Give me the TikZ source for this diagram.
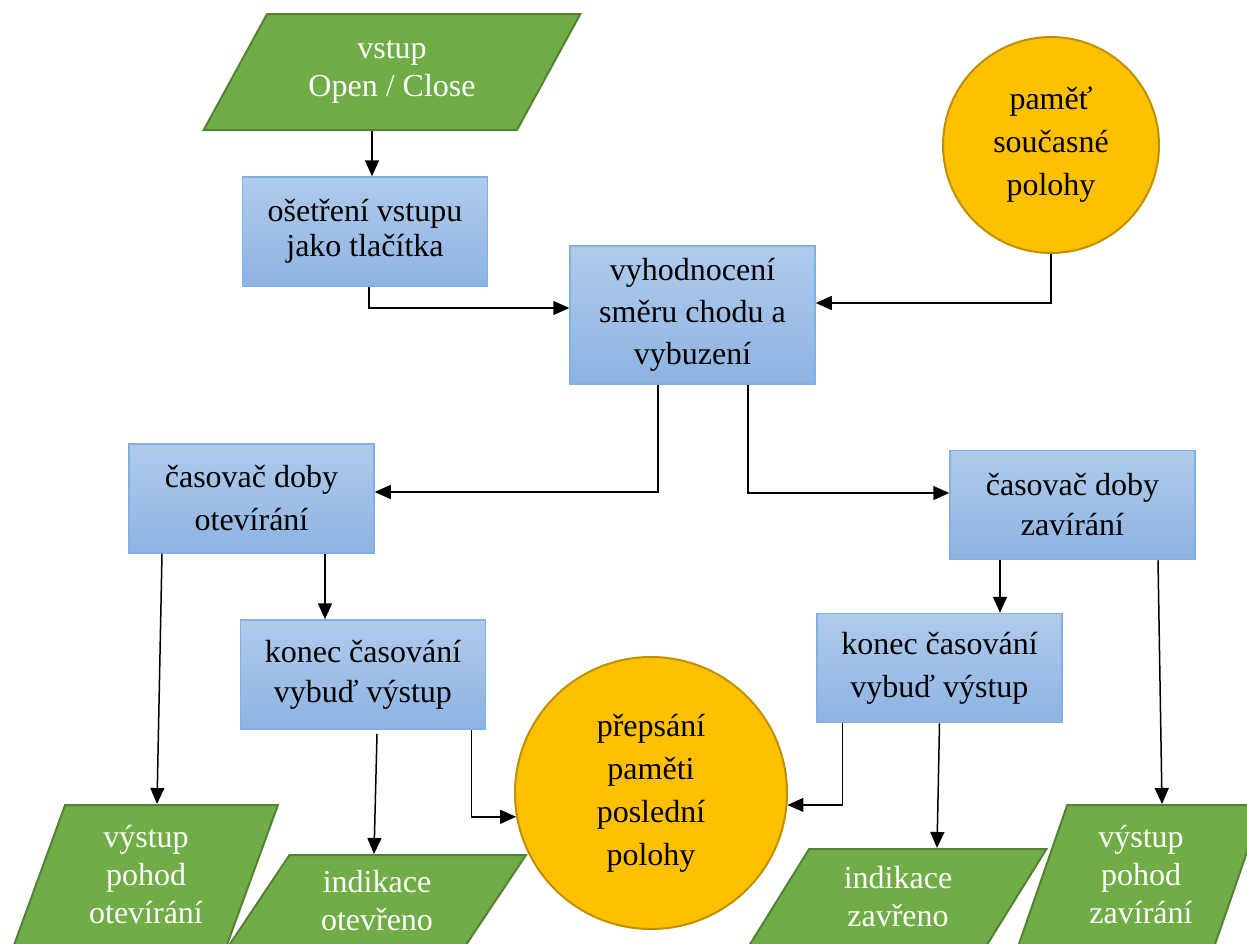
\documentclass[tikz,border=0pt]{standalone}
\usepackage{fontspec}
\setmainfont{Liberation Serif}
\usetikzlibrary{shapes.geometric,arrows.meta}
\definecolor{iogreen}{HTML}{70AD47}
\definecolor{iogreenline}{HTML}{548235}
\definecolor{boxtop}{HTML}{B0CBEB}
\definecolor{boxbot}{HTML}{8DB3E2}
\definecolor{boxline}{HTML}{7FB1E6}
\definecolor{memfill}{HTML}{FFC000}
\definecolor{memline}{HTML}{BF9000}
\tikzset{
  proc/.style={rectangle, draw=boxline, line width=0.75pt, top color=boxtop,
    bottom color=boxbot, minimum width=122.5pt, minimum height=54.5pt,
    align=center, inner sep=2pt, font=\fontsize{16}{20}\selectfont},
  io/.style={trapezium, trapezium stretches=true, draw=iogreenline, fill=iogreen,
    line width=1pt, text=white, align=center, inner sep=0pt,
    font=\fontsize{16}{19}\selectfont},
  mem/.style={circle, draw=memline, fill=memfill, line width=1pt, align=center,
    inner sep=0pt, font=\fontsize{16}{21.5}\selectfont},
  arr/.style={-{Triangle[length=8pt,width=7pt]}, line width=0.75pt},
}
\begin{document}
\begin{tikzpicture}[x=0.5pt,y=-0.5pt]
\clip (0,0) rectangle (1247,943);
% vstupy a vystupy
\node[io, trapezium left angle=56, trapezium right angle=124,
  minimum width=188.5pt, minimum height=58pt] (vin) at (392,72) {vstup\\Open / Close};
\node[io, trapezium left angle=70, trapezium right angle=110,
  minimum width=133pt, minimum height=70pt] (outopen) at (146,875) {výstup\\pohod\\otevírání};
\node[io, trapezium left angle=57, trapezium right angle=123,
  minimum width=150.5pt, minimum height=46pt] (indopen) at (377,901) {indikace\\otevřeno};
\node[io, trapezium left angle=59, trapezium right angle=121,
  minimum width=149pt, minimum height=48pt] (indclose) at (898,897) {indikace\\zavřeno};
\node[io, trapezium left angle=71, trapezium right angle=109,
  minimum width=122.5pt, minimum height=70pt] (outclose) at (1141,875) {výstup\\pohod\\zavírání};
% bloky
\node[proc, font=\fontsize{16}{17.5}\selectfont] (button) at (365,231.5) {ošetření vstupu\\jako tlačítka};
\node[proc, minimum height=69pt, font=\fontsize{16}{21}\selectfont] (eval) at (692.5,315) {vyhodnocení\\směru chodu a\\vybuzení};
\node[proc, font=\fontsize{16}{21.5}\selectfont] (topen) at (251.5,498.5) {časovač doby\\otevírání};
\node[proc] (tclose) at (1072.5,505) {časovač doby\\zavírání};
\node[proc] (endopen) at (363,674.5) {konec časování\\vybuď výstup};
\node[proc, font=\fontsize{16}{21.5}\selectfont] (endclose) at (939.5,668) {konec časování\\vybuď výstup};
% pameti
\node[mem, minimum size=108pt] (memnow) at (1051,145) {paměť\\současné\\polohy};
\node[mem, minimum size=136pt] (memlast) at (651,793) {přepsání\\paměti\\poslední\\polohy};
% spoje
\coordinate (inx) at ([xshift=3.5pt]button.north);
\draw[arr] (vin.south -| inx) -- (inx);
\draw[arr] ([xshift=2pt]button.south) |- ([yshift=3.5pt]eval.west);
\draw[arr] (memnow.south) |- ([yshift=6pt]eval.east);
\draw[arr] ([xshift=-17.25pt]eval.south) |- ([yshift=3.25pt]topen.east);
\draw[arr] ([xshift=27.75pt]eval.south) |- ([yshift=6pt]tclose.west);
\draw[arr] ([xshift=36.75pt]topen.south) -- ([xshift=-19pt]endopen.north);
\draw[arr] ([xshift=-36.25pt]tclose.south) -- ([xshift=30.25pt]endclose.north);
\draw[arr] ([xshift=-44.75pt]topen.south) -- ([xshift=5.5pt]outopen.north);
\draw[arr] ([xshift=42.75pt]tclose.south) -- ([xshift=10.5pt]outclose.north);
\draw[arr] ([xshift=7pt,yshift=-2pt]endopen.south) -- ([xshift=-1.5pt]indopen.north);
\draw[arr] (endclose.south) -- ([xshift=19.5pt]indclose.north);
\draw[arr] ([xshift=-7.5pt]endopen.south east) |- (memlast.190);
\draw[arr] ([xshift=13pt]endclose.south west) |- (memlast.355);
\end{tikzpicture}
\end{document}
